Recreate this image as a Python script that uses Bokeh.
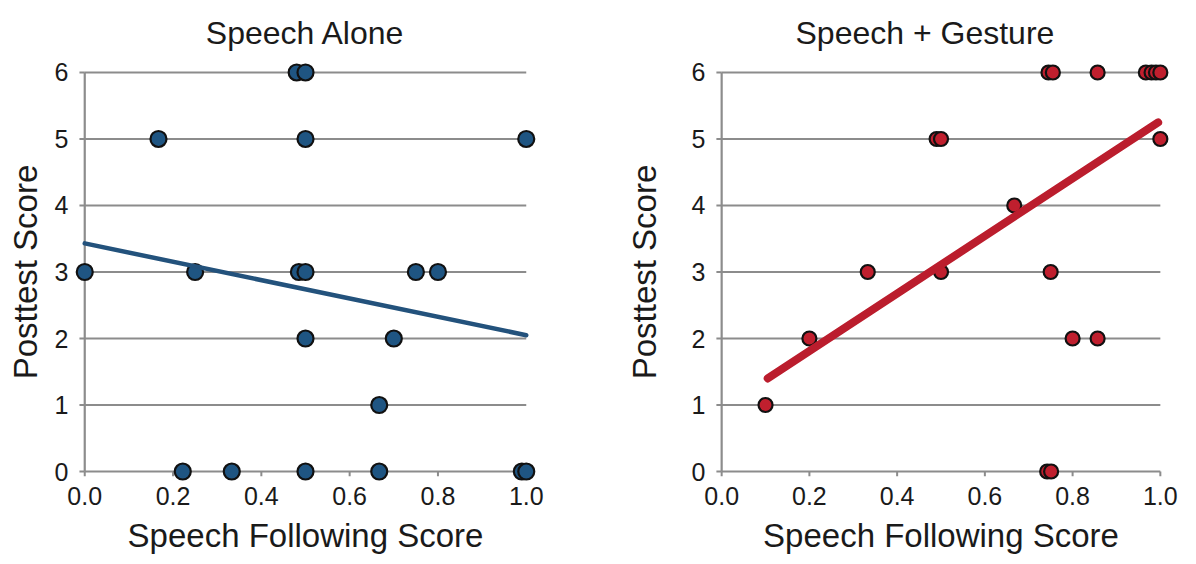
from bokeh.plotting import figure
from bokeh.models import FixedTicker, NumeralTickFormatter, Range1d
from bokeh.layouts import row
from bokeh.embed import file_html
from bokeh.resources import INLINE

# ---- data ----
x_ticks = [0.0, 0.2, 0.4, 0.6, 0.8, 1.0]
y_ticks = [0, 1, 2, 3, 4, 5, 6]

alone_x = [0.48, 0.50, 0.167, 0.50, 1.0, 0.0, 0.25, 0.485, 0.50, 0.75, 0.80,
           0.50, 0.70, 0.667, 0.222, 0.333, 0.50, 0.667, 0.99, 1.0]
alone_y = [6, 6, 5, 5, 5, 3, 3, 3, 3, 3, 3,
           2, 2, 1, 0, 0, 0, 0, 0, 0]
alone_trend_x = [0.0, 1.0]
alone_trend_y = [3.43, 2.05]

gest_x = [0.745, 0.755, 0.857, 0.967, 0.98, 0.99, 1.0, 0.49, 0.50, 1.0, 0.667,
          0.333, 0.50, 0.75, 0.20, 0.80, 0.857, 0.10, 0.742, 0.751]
gest_y = [6, 6, 6, 6, 6, 6, 6, 5, 5, 5, 4,
          3, 3, 3, 2, 2, 2, 1, 0, 0]
gest_trend_x = [0.105, 0.995]
gest_trend_y = [1.40, 5.25]

FONT = "Liberation Sans"
GRID = "#8c8c8c"
TXT = "#1a1a1a"


def panel(title, xs, ys, fill, trend_x, trend_y, trend_col, trend_w, size,
          border_left, frame_w, border_right, title_align, title_offset,
          ylab_standoff):
    p = figure(frame_width=frame_w, frame_height=419,
               min_border_left=border_left, min_border_right=border_right,
               min_border_top=62, min_border_bottom=83,
               x_range=Range1d(-0.03, 1.03), y_range=Range1d(-0.15, 6.15),
               output_backend="svg", toolbar_location=None, title=title)
    p.outline_line_color = None
    p.background_fill_color = "white"
    p.border_fill_color = "white"
    p.xgrid.visible = False
    p.ygrid.visible = False

    p.title.text_font = FONT
    p.title.text_font_size = "32px"
    p.title.text_font_style = "normal"
    p.title.text_color = TXT
    p.title.align = title_align
    p.title.standoff = 24
    p.title.offset = title_offset

    for ax in (p.xaxis[0], p.yaxis[0]):
        ax.axis_line_color = None
        ax.major_tick_line_color = None
        ax.minor_tick_line_color = None
        ax.major_tick_out = 0
        ax.major_tick_in = 0
        ax.minor_tick_out = 0
        ax.major_label_text_font = FONT
        ax.major_label_text_font_size = "25px"
        ax.major_label_text_color = TXT
        ax.axis_label_text_font = FONT
        ax.axis_label_text_font_size = "33px"
        ax.axis_label_text_font_style = "normal"
        ax.axis_label_text_color = TXT

    p.xaxis.ticker = FixedTicker(ticks=x_ticks)
    p.xaxis.formatter = NumeralTickFormatter(format="0.0")
    p.xaxis.major_label_standoff = 5
    p.xaxis.axis_label = "Speech Following Score"
    p.xaxis.axis_label_standoff = 9

    p.yaxis.ticker = FixedTicker(ticks=y_ticks)
    p.yaxis.formatter = NumeralTickFormatter(format="0")
    p.yaxis.major_label_standoff = 3
    p.yaxis.axis_label = "Posttest Score"
    p.yaxis.axis_label_standoff = ylab_standoff

    x_lo, x_hi = x_ticks[0], x_ticks[-1]
    y_lo, y_hi = y_ticks[0], y_ticks[-1]
    # horizontal gridlines spanning the data area only
    p.segment(x0=[x_lo] * len(y_ticks), x1=[x_hi] * len(y_ticks),
              y0=y_ticks, y1=y_ticks, line_color=GRID, line_width=2.2)
    # vertical axis line
    p.segment(x0=[x_lo], x1=[x_lo], y0=[y_lo], y1=[y_hi],
              line_color=GRID, line_width=2.2)
    # tick marks
    p.segment(x0=[x_lo - 0.012] * len(y_ticks), x1=[x_lo] * len(y_ticks),
              y0=y_ticks, y1=y_ticks, line_color=GRID, line_width=2)
    p.segment(x0=x_ticks, x1=x_ticks, y0=[y_lo] * len(x_ticks),
              y1=[y_lo - 0.07] * len(x_ticks), line_color=GRID, line_width=2)

    p.scatter(xs, ys, size=size, fill_color=fill, line_color="#111111",
              line_width=2.2)
    p.line(trend_x, trend_y, line_color=trend_col, line_width=trend_w,
           line_cap="round")
    return p


left = panel("Speech Alone", alone_x, alone_y, "#1f5582",
             alone_trend_x, alone_trend_y, "#23527c", 4.5, 16,
             71, 468, 59, "center", 0, 8)
right = panel("Speech + Gesture", gest_x, gest_y, "#c01f2e",
              gest_trend_x, gest_trend_y, "#bb1d2d", 8, 14,
              110, 465, 23, "left", 87, 26)

layout = row(left, right)
open("out.html", "w").write(file_html(layout, INLINE))
